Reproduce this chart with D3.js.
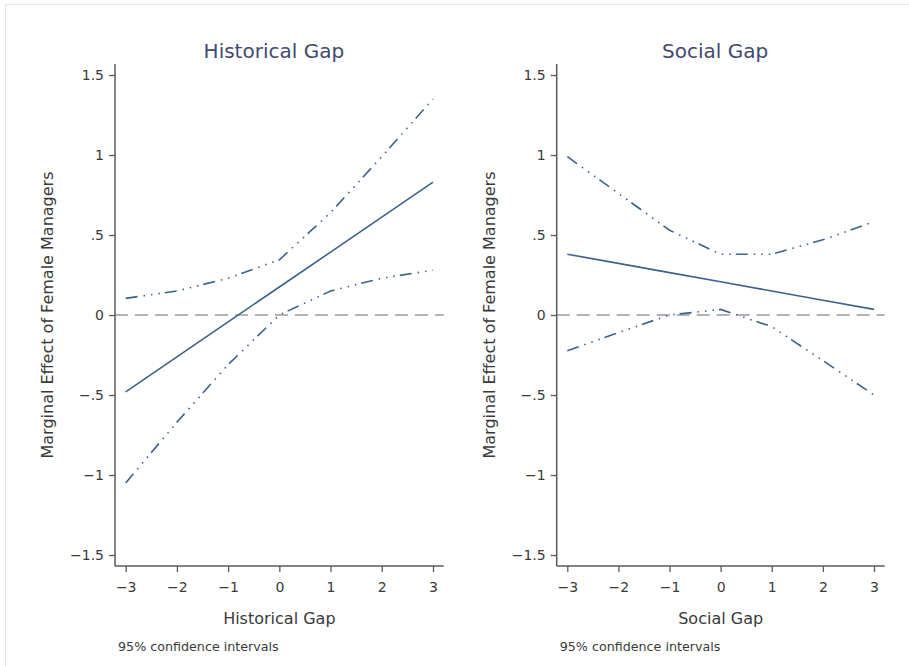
<!DOCTYPE html>
<html><head><meta charset="utf-8">
<script src="https://cdn.jsdelivr.net/npm/d3@7"></script>
<style>body{margin:0;background:#fff}svg{display:block;font-family:"DejaVu Sans",sans-serif}</style>
</head><body>
<svg id="c" width="909" height="666"></svg>
<script>
const gapValues = [-3, -2, -1, 0, 1, 2, 3];
const xTicks = [-3, -2, -1, 0, 1, 2, 3];
const yTicks = [1.5, 1, 0.5, 0, -0.5, -1, -1.5];

const histTitle = "Historical Gap";
const histMain  = [-0.48, -0.262, -0.043, 0.175, 0.393, 0.612, 0.83];
const histUpper = [0.104, 0.15, 0.23, 0.345, 0.64, 0.99, 1.35];
const histLower = [-1.05, -0.67, -0.31, 0.0, 0.15, 0.23, 0.28];

const socTitle = "Social Gap";
const socMain  = [0.38, 0.3225, 0.265, 0.2075, 0.15, 0.0925, 0.035];
const socUpper = [0.99, 0.76, 0.53, 0.38, 0.38, 0.47, 0.583];
const socLower = [-0.223, -0.11, 0.0, 0.035, -0.073, -0.285, -0.5];

const yTitle = "Marginal Effect of Female Managers";
const note = "95% confidence intervals";

const svg = d3.select("#c");
svg.append("line").attr("x1",5).attr("x2",909).attr("y1",4.5).attr("y2",4.5).attr("stroke","#e2e8ee");
svg.append("line").attr("x1",5.5).attr("x2",5.5).attr("y1",4).attr("y2",666).attr("stroke","#e2e8ee");

const fmt = v => {
  if (v === 0) return "0";
  let s = String(Math.abs(v)).replace(/^0\./, ".");
  return (v < 0 ? "\u2212" : "") + s;
};

const panels = [
  {title: histTitle, xlabel: histTitle, main: histMain, up: histUpper, lo: histLower, axisX: 115, x0: 125.7, x3: 433},
  {title: socTitle, xlabel: socTitle, main: socMain, up: socUpper, lo: socLower, axisX: 556.7, x0: 567.3, x3: 874}
];

const lineColor = "#3d6189";
const ciDash = "12,6,1.5,6,1.5,6,1.5,5";
const textColor = "#3a3a3a";
const axisColor = "#5a5a5a";

panels.forEach(p => {
  const x = d3.scaleLinear().domain([-3, 3]).range([p.x0, p.x3]);
  const xMax = x.invert(p.x3 + (p.x0 - p.axisX));
  const y = d3.scaleLinear().domain([-1.5, 1.5]).range([555, 75]);
  const top = 64, bottom = 566;
  const g = svg.append("g");

  g.append("line").attr("x1", p.axisX).attr("x2", x(xMax)).attr("y1", y(0)).attr("y2", y(0))
    .attr("stroke", "#666").attr("stroke-width", 1.1).attr("stroke-dasharray", "13,7");

  const line = d3.line().x((d,i) => x(gapValues[i])).y(d => y(d));
  [p.up, p.lo].forEach(arr => {
    g.append("path").attr("d", line(arr)).attr("fill","none").attr("stroke",lineColor)
      .attr("stroke-width",1.6).attr("stroke-dasharray",ciDash);
  });
  g.append("path").attr("d", line(p.main)).attr("fill","none").attr("stroke",lineColor)
    .attr("stroke-width",1.6);

  const yAxis = d3.axisLeft(y).tickValues(yTicks).tickSize(6).tickPadding(5).tickFormat(fmt);
  const ya = g.append("g").attr("transform", `translate(${p.axisX},0)`).call(yAxis);
  ya.select(".domain").remove();
  ya.append("line").attr("x1",0).attr("x2",0).attr("y1",top).attr("y2",bottom)
    .attr("stroke",axisColor).attr("stroke-width",1.5);
  ya.selectAll(".tick line").attr("stroke",axisColor).attr("stroke-width",1.3);
  ya.selectAll(".tick text").attr("fill",textColor).attr("font-size",14).attr("font-family","DejaVu Sans, sans-serif");

  const xAxis = d3.axisBottom(x).tickValues(xTicks).tickSize(6).tickPadding(10).tickFormat(fmt);
  const xa = g.append("g").attr("transform", `translate(0,${bottom})`).call(xAxis);
  xa.select(".domain").remove();
  xa.append("line").attr("x1",p.axisX).attr("x2",x(xMax)).attr("y1",0).attr("y2",0)
    .attr("stroke",axisColor).attr("stroke-width",1.5);
  xa.selectAll(".tick line").attr("stroke",axisColor).attr("stroke-width",1.3);
  xa.selectAll(".tick text").attr("fill",textColor).attr("font-size",14).attr("font-family","DejaVu Sans, sans-serif");

  const cx = (p.axisX + x(xMax)) / 2 - 5.5;
  g.append("text").attr("x", cx).attr("y", 58).attr("text-anchor","middle")
    .attr("font-size",20).attr("fill","#414a6e").text(p.title);
  g.append("text").attr("x", x(0)).attr("y", 624).attr("text-anchor","middle")
    .attr("font-size",16).attr("fill",textColor).text(p.xlabel);
  g.append("text").attr("transform", `translate(${p.axisX - 62},${y(0)}) rotate(-90)`)
    .attr("text-anchor","middle").attr("font-size",16).attr("fill",textColor).text(yTitle);
  g.append("text").attr("x", p.axisX + 3).attr("y", 651).attr("font-size",12.7)
    .attr("fill",textColor).text(note);
});
</script>
</body></html>
